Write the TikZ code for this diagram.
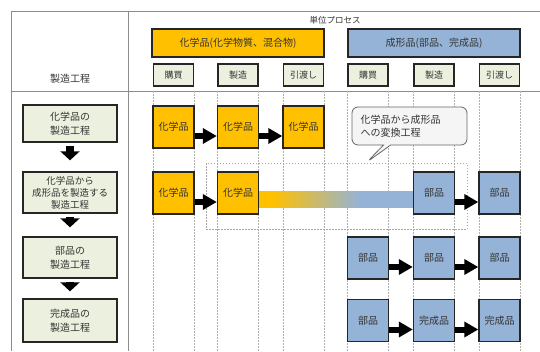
\documentclass[tikz,border=0pt]{standalone}
\usepackage{fontspec}
\setmainfont{Noto Sans CJK JP}
\usetikzlibrary{arrows.meta,shapes.callouts}
\definecolor{orangeC}{HTML}{FFC000}
\definecolor{blueC}{HTML}{95B3D7}
\definecolor{greenC}{HTML}{EBF1DE}
\definecolor{gridC}{HTML}{8C8C8C}
\definecolor{colC}{HTML}{B0B0B0}
\definecolor{textC}{HTML}{333333}
\definecolor{edgeC}{HTML}{262626}
\tikzset{
  cbox/.style={rectangle, draw=edgeC, line width=1.4pt, minimum width=41pt, minimum height=42pt, inner sep=0pt, text=textC, font=\fontsize{10}{11}\selectfont},
  chem/.style={cbox, fill=orangeC},
  part/.style={cbox, fill=blueC},
  hdr/.style={rectangle, draw=edgeC, line width=1.4pt, minimum width=172pt, minimum height=28pt, inner sep=0pt, text=textC, font=\fontsize{10}{11}\selectfont},
  lbl/.style={rectangle, draw=edgeC, line width=1.2pt, fill=greenC, minimum width=40pt, minimum height=22pt, inner sep=0pt, text=textC, font=\fontsize{9}{10}\selectfont},
  stepbox/.style={rectangle, draw=edgeC, line width=1.4pt, fill=greenC, minimum width=94pt, inner sep=0pt, align=center, text=textC, font=\fontsize{10}{14.5}\selectfont},
  harr/.style={line width=6pt, -{Triangle[width=15pt,length=14pt]}, black},
  varr/.style={line width=8pt, -{Triangle[width=19pt,length=9pt]}, black, shorten <=3pt},
  tline/.style={draw=gridC, line width=0.8pt},
  cline/.style={draw=colC, line width=0.5pt, dash pattern=on 2pt off 1pt},
  plain/.style={text=textC, inner sep=0pt},
}
\begin{document}
\begin{tikzpicture}[x=1pt,y=-1pt]
\fill[white] (0,0) rectangle (540,351);
\useasboundingbox (0,0) rectangle (540,351);
% table lines
\draw[tline] (11,11) -- (540,11);
\draw[tline] (11,91) -- (540,91);
\draw[tline] (11,11) -- (11,351);
\draw[tline] (128,11) -- (128,351);
% column dashed lines
\foreach \c in {173.5,238,303.5,368,434,499.5}{
  \draw[cline] (\c-20.5,91) -- (\c-20.5,351);
  \draw[cline] (\c+20.5,91) -- (\c+20.5,351);
}
% headers
\node[plain, font=\fontsize{8.5}{9}\selectfont] (unit) at (335,20) {単位プロセス};
\node[plain, font=\fontsize{10}{11}\selectfont] (proc) at (70,79) {製造工程};
\node[hdr, fill=orangeC] (hchem) at (238,43) {化学品(化学物質、混合物)};
\node[hdr, fill=blueC] (hpart) at (434,43) {成形品(部品、完成品)};
\node[lbl] (k1) at (173.5,75) {購買};
\node[lbl] (k2) at (238,75) {製造};
\node[lbl] (k3) at (303.5,75) {引渡し};
\node[lbl] (k4) at (368,75) {購買};
\node[lbl] (k5) at (434,75) {製造};
\node[lbl] (k6) at (499.5,75) {引渡し};
% left flow
\node[stepbox, minimum height=37pt] (l1) at (70,123.5) {化学品の\\製造工程};
\node[stepbox, minimum height=41pt, font=\fontsize{9.5}{12}\selectfont] (l2) at (70,192.5) {化学品から\\成形品を製造する\\製造工程};
\node[stepbox, minimum height=41pt] (l3) at (70,257.5) {部品の\\製造工程};
\node[stepbox, minimum height=43pt] (l4) at (70,320.5) {完成品の\\製造工程};
\draw[varr, shorten >=11pt] (l1.south) -- (l2.north);
\draw[varr, shorten >=9pt] (l2.south) -- (l3.north);
\draw[varr, shorten >=7pt] (l3.south) -- (l4.north);
% conversion region
\draw[gray!70, line width=0.8pt, dash pattern=on 1.5pt off 1.5pt] (206,163) rectangle (467,229);
\fill[orangeC] (257,191) rectangle (273,208);
\foreach \i in {0,...,44}{
  \pgfmathsetmacro\p{\i*100/44}
  \fill[blueC!\p!orangeC] (272+\i*2,191) rectangle (274.3+\i*2,208);
}
\fill[blueC] (361.5,191) rectangle (414,208);
% row 1
\node[chem] (a1) at (173.5,127) {化学品};
\node[chem] (a2) at (238,127) {化学品};
\node[chem] (a3) at (303.5,127) {化学品};
\draw[harr] ([yshift=-9pt]a1.east) -- ([yshift=-9pt]a2.west);
\draw[harr] ([yshift=-9pt]a2.east) -- ([yshift=-9pt]a3.west);
% row 2
\node[chem] (b1) at (173.5,193) {化学品};
\node[chem] (b2) at (238,193) {化学品};
\node[part] (b5) at (434,193) {部品};
\node[part] (b6) at (499.5,193) {部品};
\draw[harr] ([yshift=-9pt]b1.east) -- ([yshift=-9pt]b2.west);
\draw[harr] ([yshift=-9pt]b5.east) -- ([yshift=-9pt]b6.west);
% row 3
\node[part] (c4) at (368,258) {部品};
\node[part] (c5) at (434,258) {部品};
\node[part] (c6) at (499.5,258) {部品};
\draw[harr] ([yshift=-9pt]c4.east) -- ([yshift=-9pt]c5.west);
\draw[harr] ([yshift=-9pt]c5.east) -- ([yshift=-9pt]c6.west);
% row 4
\node[part] (d4) at (368,320.5) {部品};
\node[part] (d5) at (434,320.5) {完成品};
\node[part] (d6) at (499.5,320.5) {完成品};
\draw[harr] ([yshift=-9pt]d4.east) -- ([yshift=-9pt]d5.west);
\draw[harr] ([yshift=-9pt]d5.east) -- ([yshift=-9pt]d6.west);
% callout
\node[rectangle callout, rounded corners=6pt, draw=gray!80!black, line width=0.8pt, fill=gray!8,
      minimum width=115pt, minimum height=38pt, inner sep=0pt, text width=98pt, align=left,
      text=textC, font=\fontsize{10}{13}\selectfont,
      callout absolute pointer={(367,162)}] (call) at (409.5,126) {化学品から成形品\\への変換工程};
\end{tikzpicture}
\end{document}
